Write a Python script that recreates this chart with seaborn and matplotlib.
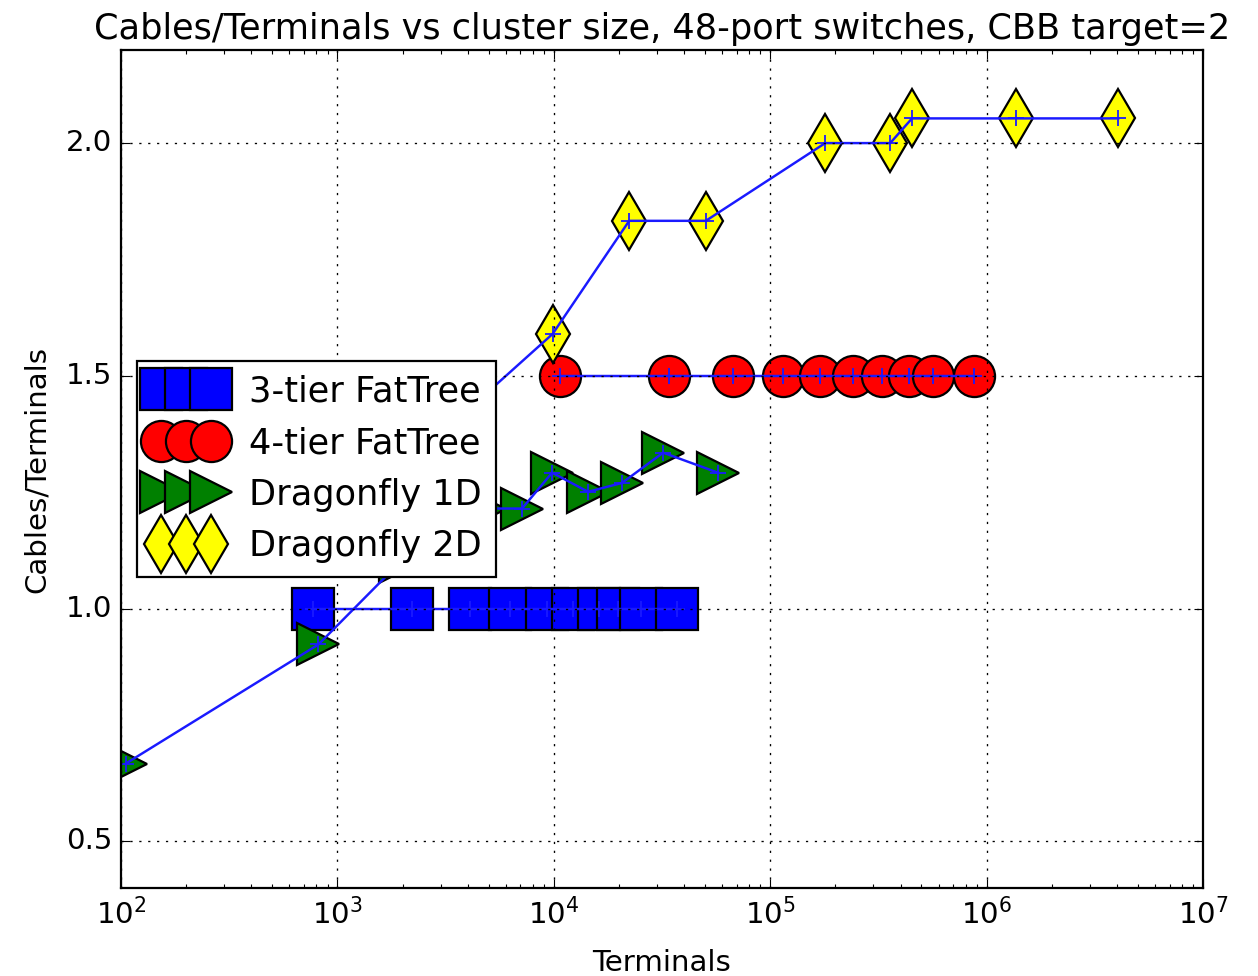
import matplotlib
matplotlib.use("Agg")
import matplotlib.pyplot as plt
import seaborn as sns

# ---- data ----
ft3_x = [770, 2210, 4090, 6280, 9330, 12300, 16100, 19900, 25400, 37000]
ft3_y = [1.0, 1.0, 1.0, 1.0, 1.0, 1.0, 1.0, 1.0, 1.0, 1.0]

ft4_x = [10700, 33900, 67000, 115000, 169500, 241800, 329300, 437500, 565300, 878000]
ft4_y = [1.5, 1.5, 1.5, 1.5, 1.5, 1.5, 1.5, 1.5, 1.5, 1.5]

df1_x = [105, 817, 1950, 4800, 7130, 9820, 14400, 20650, 32000, 57400]
df1_y = [0.667, 0.923, 1.10, 1.215, 1.215, 1.292, 1.251, 1.270, 1.335, 1.292]

df2_x = [2980, 9870, 22300, 50400, 179500, 358500, 452000, 1360000, 4060000]
df2_y = [1.373, 1.590, 1.833, 1.833, 2.0, 2.0, 2.053, 2.053, 2.053]

labels = ["3-tier FatTree", "4-tier FatTree", "Dragonfly 1D", "Dragonfly 2D"]
markers = ["s", "o", ">", "d"]
colors = ["#0000ff", "#ff0000", "#008000", "#ffff00"]
x_ticks = [1e2, 1e3, 1e4, 1e5, 1e6, 1e7]
y_ticks = [0.5, 1.0, 1.5, 2.0]

title = "Cables/Terminals vs cluster size, 48-port switches, CBB target=2"
xlabel = "Terminals"
ylabel = "Cables/Terminals"

# ---- style ----
plt.style.use("classic")
plt.rcParams.update({
    "figure.facecolor": "white",
    "savefig.facecolor": "white",
    "font.family": ["DejaVu Sans"],
    "font.size": 13.2,
    "xtick.labelsize": 13.2,
    "ytick.labelsize": 13.2,
    "axes.axisbelow": False,
})

fig = plt.figure(figsize=(1258 / 160, 976 / 160), dpi=160)
ax = fig.add_axes([0.0962, 0.0902, 0.8601, 0.8586])
ax.set_xscale("log")

series = [(ft3_x, ft3_y), (ft4_x, ft4_y), (df1_x, df1_y), (df2_x, df2_y)]
for (xs, ys), lab, mk, col in zip(series, labels, markers, colors):
    sns.lineplot(x=xs, y=ys, ax=ax, estimator=None, sort=False,
                 linestyle="", marker=mk, markersize=18.5, color=col,
                 markerfacecolor=col, markeredgecolor="black",
                 markeredgewidth=1.0, label=lab)
    sns.lineplot(x=xs, y=ys, ax=ax, estimator=None, sort=False,
                 linestyle="-", linewidth=1.1, marker="+", markersize=7,
                 color="#1a1aff", markeredgecolor="#1a1aff",
                 markeredgewidth=0.8)

ax.set_xlim(1e2, 1e7)
ax.set_ylim(0.4, 2.2)
ax.set_xticks(x_ticks)
ax.set_yticks(y_ticks)
ax.grid(True, color="black", linestyle=":", linewidth=0.6)

ax.set_title(title, fontsize=15.8)
ax.set_xlabel(xlabel, fontsize=13.2, labelpad=9)
ax.set_ylabel(ylabel, fontsize=13.2, labelpad=6.5)

leg = ax.legend(loc="center left", numpoints=3, handlelength=2.0,
                fontsize=15.8, fancybox=False, framealpha=1.0,
                edgecolor="black", borderaxespad=0.45)

fig.savefig("out.png", dpi=160)
